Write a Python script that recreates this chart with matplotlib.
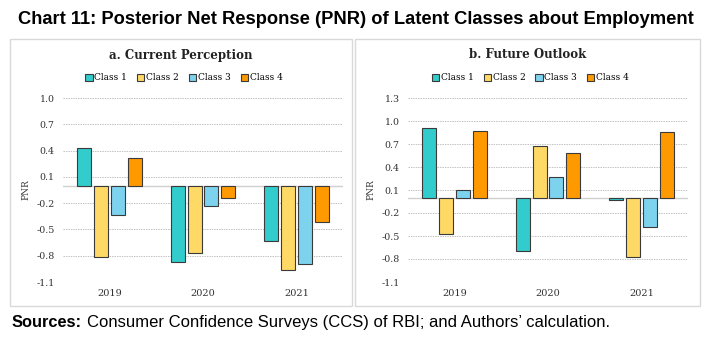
import matplotlib.pyplot as plt
import numpy as np
from matplotlib.patches import Rectangle

years = ['2019', '2020', '2021']
classes = ['Class 1', 'Class 2', 'Class 3', 'Class 4']
colors = ['#33CCCC', '#FFD966', '#7DD3EE', '#FF9900']

# PNR values, rows = class, cols = year
current = [[0.43, -0.87, -0.63],
           [-0.82, -0.77, -0.96],
           [-0.34, -0.23, -0.89],
           [0.31, -0.14, -0.41]]
future = [[0.91, -0.70, -0.03],
          [-0.48, 0.68, -0.77],
          [0.10, 0.27, -0.38],
          [0.87, 0.58, 0.86]]

W, H = 707, 340
fig = plt.figure(figsize=(W / 100, H / 100), dpi=100)
serif = ['DejaVu Serif']
sans = ['Liberation Sans', 'DejaVu Sans']


def px_axes(x0, y0, x1, y1):
    return fig.add_axes([x0 / W, 1 - y1 / H, (x1 - x0) / W, (y1 - y0) / H])


def panel(box, area, data, title, yticks):
    bx0, by0, bx1, by1 = box
    fig.patches.append(Rectangle((bx0 / W, 1 - by1 / H), (bx1 - bx0) / W, (by1 - by0) / H,
                                 transform=fig.transFigure, fill=False,
                                 edgecolor='#d9d9d9', linewidth=1.0))
    ax = px_axes(*area)
    x = np.arange(len(years))
    bw, pitch = 0.15, 0.18
    for i, (name, vals) in enumerate(zip(classes, data)):
        ax.bar(x + (i - 1.5) * pitch, vals, bw, color=colors[i], edgecolor='#3a3a3a',
               linewidth=0.8, label=name, zorder=3)
    ax.set_xlim(-0.5, 2.5)
    ax.set_ylim(yticks[-1], yticks[0])
    ax.set_yticks(yticks)
    ax.set_yticklabels([f'{t:.1f}' for t in yticks], family=serif, fontsize=6.8, color='#333333')
    ax.set_xticks(x)
    ax.set_xticklabels(years, family=serif, fontsize=7, color='#333333')
    ax.tick_params(length=0, pad=6)
    ax.tick_params(axis='x', pad=5)
    for s in ax.spines.values():
        s.set_visible(False)
    for t in yticks:
        ax.axhline(t, color='#a6a6a6', linestyle=(0, (2, 1.5)), linewidth=0.5, zorder=1)
    ax.axhline(0, color='#d0d0d0', linewidth=1.0, zorder=2)
    ax.set_ylabel('PNR', family=serif, fontsize=6.5, color='#333333', labelpad=4)
    cx = (bx0 + bx1) / 2 / W
    fig.text(cx, 1 - 55 / H, title, ha='center', va='center', family=serif,
             fontsize=8.5, fontweight='bold', color='#222222')
    fig.legend(*ax.get_legend_handles_labels(), loc='center', bbox_to_anchor=(cx + 3 / W, 1 - 78 / H),
               ncol=4, frameon=False, prop={'family': serif, 'size': 6.5},
               handlelength=0.8, handleheight=0.8, handletextpad=0.2, columnspacing=1.1)
    return ax


panel((10, 39, 352, 306), (63, 98, 343, 282), current, 'a. Current Perception',
      [1.0, 0.7, 0.4, 0.1, -0.2, -0.5, -0.8, -1.1])
panel((355, 39, 700, 306), (408, 98, 688, 282), future, 'b. Future Outlook',
      [1.3, 1.0, 0.7, 0.4, 0.1, -0.2, -0.5, -0.8, -1.1])

fig.text(18 / W, 1 - 19 / H, 'Chart 11: Posterior Net Response (PNR) of Latent Classes about Employment',
         ha='left', va='center', family=sans, fontsize=13.2, fontweight='bold', color='black')
fig.text(12 / W, 1 - 327 / H, 'Sources:', ha='left', va='baseline', family=sans,
         fontsize=11.8, fontweight='bold')
fig.text(87 / W, 1 - 327 / H, 'Consumer Confidence Surveys (CCS) of RBI; and Authors\u2019 calculation.',
         ha='left', va='baseline', family=sans, fontsize=12)

fig.savefig('out.png', dpi=100)
